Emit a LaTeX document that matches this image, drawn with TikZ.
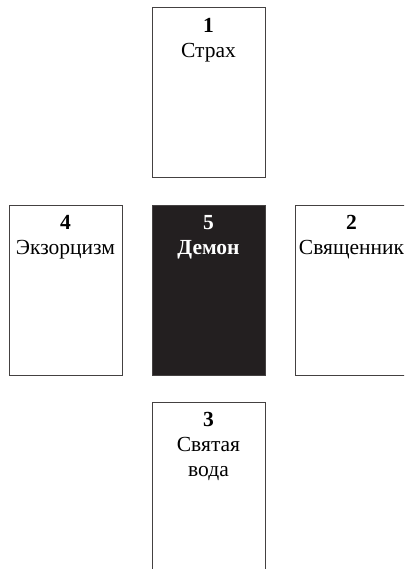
\documentclass[tikz,border=0pt]{standalone}
\usepackage{fontspec}
\setmainfont{Liberation Serif}
\usetikzlibrary{positioning}
\definecolor{cardblack}{HTML}{231F20}

\begin{document}
\begin{tikzpicture}[
  x=1pt, y=1pt,
  node distance=26pt and 29pt,
  card/.style={rectangle, draw=cardblack!85, line width=1pt, fill=white,
    minimum width=113pt, minimum height=170pt, inner sep=0pt},
  cardtext/.style={anchor=north, align=center, yshift=-7pt,
    font=\fontsize{21.5}{25}\selectfont},
  darkcard/.style={card, fill=cardblack}
]
\clip (0,0) rectangle (404,-569);
\useasboundingbox (0,0) rectangle (404,-569);
\node[darkcard, label={[cardtext, text=white]north:{\textbf{5}\\\textbf{Демон}}}] (demon) at (208.5,-290) {};
\node[card, above=of demon, label={[cardtext]north:{\textbf{1}\\Страх}}] (fear) {};
\node[card, right=of demon, label={[cardtext]north:{\textbf{2}\\Священник}}] (priest) {};
\node[card, below=of demon, label={[cardtext]north:{\textbf{3}\\Святая\\вода}}] (water) {};
\node[card, left=of demon, label={[cardtext]north:{\textbf{4}\\Экзорцизм}}] (exorcism) {};
\end{tikzpicture}
\end{document}
